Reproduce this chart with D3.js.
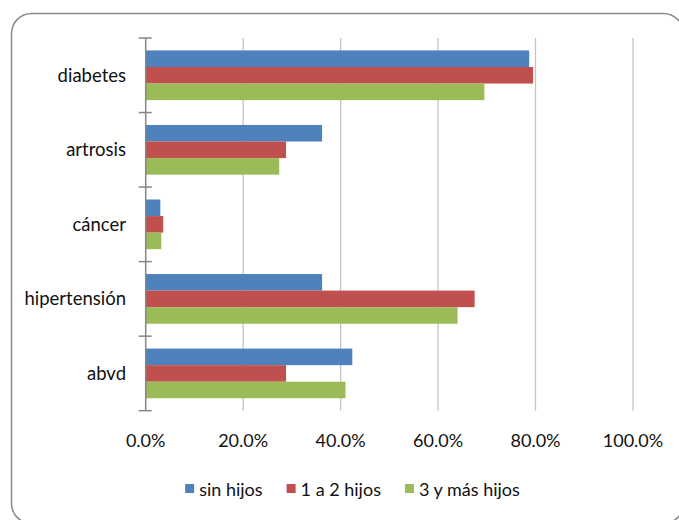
<!DOCTYPE html>
<html>
<head>
<meta charset="utf-8">
<script src="https://cdn.jsdelivr.net/npm/d3@7"></script>
<style>
  html, body { margin: 0; padding: 0; background: #ffffff; }
  svg { display: block; }
  text { font-family: Lato, "Open Sans", sans-serif; fill: #111111; }
</style>
</head>
<body>
<svg id="chart" width="679" height="520"></svg>
<script>
// Enfermedades por número de hijos (proporción de cada grupo)
const categories = ["diabetes", "artrosis", "cáncer", "hipertensión", "abvd"];
const seriesNames = ["sin hijos", "1 a 2 hijos", "3 y más hijos"];
const sinHijos   = [0.787, 0.362, 0.030, 0.362, 0.424];
const unoADos    = [0.795, 0.288, 0.036, 0.675, 0.288];
const tresYMas   = [0.695, 0.274, 0.032, 0.640, 0.410];
const seriesColors = ["#4F81BD", "#C0504D", "#9BBB59"];
const xTicks = [0, 0.2, 0.4, 0.6, 0.8, 1.0];

const seriesValues = [sinHijos, unoADos, tresYMas];

const svg = d3.select("#chart");

// Outer frame with rounded corners
svg.append("rect")
  .attr("x", 11.5).attr("y", 13.5)
  .attr("width", 672).attr("height", 510)
  .attr("rx", 20).attr("ry", 20)
  .attr("fill", "#ffffff")
  .attr("stroke", "#8a8a8a")
  .attr("stroke-width", 1.5);

const plot = { left: 145.7, right: 633, top: 38, bottom: 410.7 };

const x = d3.scaleLinear().domain([0, 1]).range([plot.left, plot.right]);
const y = d3.scaleBand().domain(categories).range([plot.top, plot.bottom]).padding(0);
const ySeries = d3.scaleBand().domain(seriesNames).range([0, y.step()])
  .paddingInner(0).paddingOuter(0.75);

// Vertical gridlines
svg.append("g")
  .selectAll("line")
  .data(xTicks.filter(t => t > 0))
  .join("line")
  .attr("x1", d => x(d)).attr("x2", d => x(d))
  .attr("y1", plot.top).attr("y2", plot.bottom)
  .attr("stroke", "#c4c4c4")
  .attr("stroke-width", 1.3);

// Bars
const rows = [];
categories.forEach((c, i) => {
  seriesNames.forEach((s, j) => {
    rows.push({ cat: c, series: s, value: seriesValues[j][i], color: seriesColors[j] });
  });
});

svg.append("g")
  .selectAll("rect")
  .data(rows)
  .join("rect")
  .attr("x", x(0))
  .attr("y", d => y(d.cat) + ySeries(d.series))
  .attr("width", d => x(d.value) - x(0))
  .attr("height", ySeries.bandwidth())
  .attr("fill", d => d.color);

// Category axis: line plus crossing tick marks at band boundaries
const boundaries = categories.map(c => y(c)).concat([plot.bottom]);
const axisG = svg.append("g");
axisG.append("line")
  .attr("x1", x(0)).attr("x2", x(0))
  .attr("y1", plot.top).attr("y2", plot.bottom)
  .attr("stroke", "#868686").attr("stroke-width", 1.5);
axisG.selectAll("line.tick")
  .data(boundaries)
  .join("line")
  .attr("class", "tick")
  .attr("x1", x(0) - 7).attr("x2", x(0) + 6)
  .attr("y1", d => d).attr("y2", d => d)
  .attr("stroke", "#868686").attr("stroke-width", 1.5);

// Category labels
svg.append("g")
  .selectAll("text")
  .data(categories)
  .join("text")
  .attr("x", 126)
  .attr("y", d => y(d) + y.bandwidth() / 2)
  .attr("dy", "0.35em")
  .attr("text-anchor", "end")
  .attr("font-size", 18.5)
  .text(d => d);

// Value axis labels
svg.append("g")
  .selectAll("text")
  .data(xTicks)
  .join("text")
  .attr("x", d => x(d))
  .attr("y", 447)
  .attr("text-anchor", "middle")
  .attr("font-size", 18)
  .text(d => d3.format(".1%")(d));

// Legend
const legend = svg.append("g");
const items = legend.selectAll("g")
  .data(seriesNames)
  .join("g");
items.append("rect")
  .attr("width", 9).attr("height", 9)
  .attr("y", 484)
  .attr("fill", (d, i) => seriesColors[i]);
items.append("text")
  .attr("x", 14)
  .attr("y", 496)
  .attr("font-size", 18)
  .text(d => d);

let cursor = 0;
const offsets = [];
items.each(function () {
  const w = this.querySelector("text").getComputedTextLength();
  offsets.push(cursor);
  cursor += 14 + w + 24;
});
const totalW = cursor - 24;
const startX = 352.5 - totalW / 2;
items.attr("transform", (d, i) => `translate(${startX + offsets[i]},0)`);
</script>
</body>
</html>
